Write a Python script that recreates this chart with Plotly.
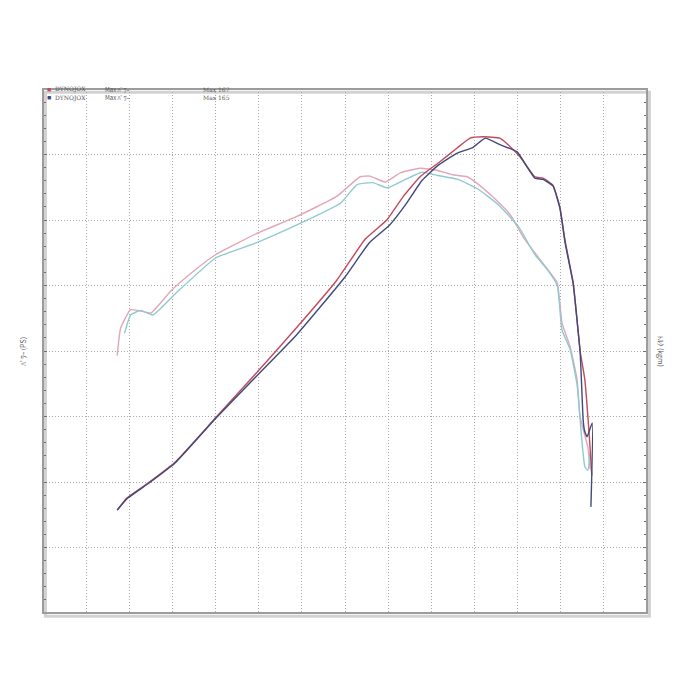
import plotly.graph_objects as go

# Dyno sheet values, in grid units (14 x 8 chart divisions)
POWER_A_X = [1.72, 1.94, 2.45, 3.06, 4.00, 4.94, 5.87, 6.81, 7.47, 7.97, 8.34, 8.74, 9.20, 9.60,
             9.90, 10.20, 10.59, 10.78, 11.06, 11.40, 11.59, 11.82, 11.98, 12.10, 12.22, 12.29,
             12.45, 12.56, 12.63, 12.68, 12.72]
POWER_A_Y = [1.57, 1.75, 1.99, 2.30, 2.98, 3.66, 4.35, 5.08, 5.71, 6.00, 6.35, 6.66, 6.89, 7.10,
             7.25, 7.27, 7.25, 7.15, 6.96, 6.66, 6.64, 6.53, 6.20, 5.69, 5.28, 5.04,
             4.00, 3.56, 3.00, 2.53, 2.10]

POWER_B_X = [1.72, 1.94, 2.45, 3.06, 4.00, 4.94, 5.87, 7.00, 7.56, 8.03, 8.40, 8.78, 9.15, 9.60,
             9.97, 10.25, 10.59, 10.99, 11.40, 11.59, 11.82, 11.98, 12.10, 12.22, 12.29, 12.45,
             12.52, 12.55, 12.61, 12.73, 12.70]
POWER_B_Y = [1.57, 1.74, 1.98, 2.29, 2.97, 3.61, 4.24, 5.13, 5.65, 5.92, 6.23, 6.60, 6.83, 7.02,
             7.11, 7.25, 7.15, 7.04, 6.64, 6.62, 6.52, 6.18, 5.66, 5.26, 5.02, 3.98,
             2.95, 2.79, 2.69, 2.90, 1.62]

TORQUE_A_X = [1.72, 1.80, 2.03, 2.27, 2.50, 2.97, 3.53, 4.00, 4.94, 5.87, 6.81, 7.35, 7.58, 7.93,
              8.28, 8.74, 9.13, 9.50, 9.83, 10.06, 10.43, 10.83, 11.13, 11.40, 11.68, 11.92,
              12.03, 12.22, 12.38, 12.45, 12.63, 12.68]
TORQUE_A_Y = [3.93, 4.35, 4.63, 4.61, 4.58, 4.92, 5.24, 5.47, 5.79, 6.05, 6.36, 6.66, 6.67, 6.58,
              6.72, 6.79, 6.76, 6.69, 6.66, 6.56, 6.35, 6.08, 5.74, 5.50, 5.26, 5.04,
              4.43, 4.06, 3.56, 2.99, 2.53, 2.20]

TORQUE_B_X = [1.89, 2.03, 2.27, 2.55, 3.06, 4.00, 4.94, 5.87, 6.90, 7.28, 7.65, 7.98, 8.40, 8.78,
              9.15, 9.62, 10.09, 10.56, 11.03, 11.40, 11.68, 11.92, 12.03, 12.22, 12.38, 12.45,
              12.49, 12.56, 12.63, 12.68]
TORQUE_B_Y = [4.27, 4.55, 4.62, 4.55, 4.87, 5.42, 5.65, 5.92, 6.26, 6.54, 6.57, 6.49, 6.62, 6.73,
              6.68, 6.62, 6.47, 6.23, 5.89, 5.47, 5.25, 5.00, 4.32, 4.02, 3.48, 2.95,
              2.64, 2.23, 2.18, 2.45]

LEGEND_ROWS = [("DYNOJOX", "Max ﾊﾟﾜｰ", "Max 167"), ("DYNOJOX", "Max ﾊﾟﾜｰ", "Max 165")]

RED      = "#c24a5a"
NAVY     = "#3f4a7c"
PINK     = "#e2a6b6"
CYAN     = "#8ecad2"
GRID     = "#a9a9a9"
FRAME    = "#9c9c9c"
TEXT     = "#555555"

fig = go.Figure()

for xs, ys, color in [
    (TORQUE_A_X, TORQUE_A_Y, PINK),
    (TORQUE_B_X, TORQUE_B_Y, CYAN),
    (POWER_A_X, POWER_A_Y, RED),
    (POWER_B_X, POWER_B_Y, NAVY),
]:
    fig.add_trace(go.Scatter(
        x=xs, y=ys, mode="lines",
        line=dict(color=color, width=1.4, shape="spline", smoothing=0.4),
        hoverinfo="skip", showlegend=False,
    ))

# legend rows sit on the top edge of the frame, like the printout
for i, (name, what, peak) in enumerate(LEGEND_ROWS):
    yy = 1.0 - i * 0.017
    fig.add_annotation(x=0.003, y=yy, xref="paper", yref="paper", text="■",
                       showarrow=False, xanchor="left", yanchor="middle",
                       font=dict(size=7, color=RED if i == 0 else NAVY))
    fig.add_annotation(x=0.016, y=yy, xref="paper", yref="paper", text=name,
                       showarrow=False, xanchor="left", yanchor="middle",
                       font=dict(size=6, color=TEXT, family="DejaVu Serif"))
    fig.add_annotation(x=0.10, y=yy, xref="paper", yref="paper", text=what,
                       showarrow=False, xanchor="left", yanchor="middle",
                       font=dict(size=6, color=TEXT, family="Noto Sans CJK JP"))
    fig.add_annotation(x=0.262, y=yy, xref="paper", yref="paper", text=peak,
                       showarrow=False, xanchor="left", yanchor="middle",
                       font=dict(size=6, color=TEXT, family="DejaVu Serif"))

fig.add_annotation(x=-0.045, y=0.5, xref="paper", yref="paper", text="ﾊﾟﾜｰ (PS)",
                   textangle=-90, showarrow=False,
                   font=dict(size=7, color=TEXT, family="Noto Sans CJK JP"))
fig.add_annotation(x=1.035, y=0.5, xref="paper", yref="paper", text="ﾄﾙｸ (kgm)",
                   textangle=90, showarrow=False,
                   font=dict(size=7, color=TEXT, family="Noto Sans CJK JP"))

# frame with a soft shadow
fig.add_shape(type="rect", xref="paper", yref="paper", x0=0.004, y0=-0.006, x1=1.004, y1=0.994,
              line=dict(color="#d2d2d2", width=3), layer="below")
fig.add_shape(type="rect", xref="paper", yref="paper", x0=0, y0=0, x1=1, y1=1,
              line=dict(color=FRAME, width=2))

axis_common = dict(
    showgrid=True, gridcolor=GRID, gridwidth=1, griddash="1px,2px",
    zeroline=False, showticklabels=False, showline=False,
)
fig.update_xaxes(range=[0, 14], dtick=1, **axis_common)
fig.update_yaxes(range=[0, 8], dtick=1, **axis_common)
fig.update_yaxes(minor=dict(dtick=0.2, ticks="inside", ticklen=3, tickcolor="#707070", showgrid=False),
                 ticks="inside", ticklen=4, tickcolor="#707070", mirror="ticks")

# page body adds 8px on top/left, so margins are shifted to land the frame where the scan has it
fig.update_layout(
    width=700, height=700,
    paper_bgcolor="white", plot_bgcolor="white",
    margin=dict(l=35, r=61, t=81, b=95),
)

fig.write_html("out.html")
